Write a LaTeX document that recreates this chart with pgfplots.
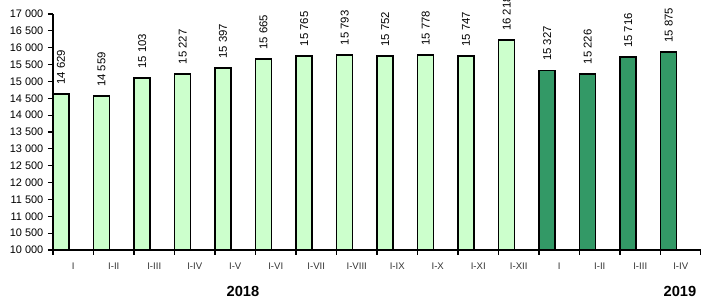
\documentclass[border=0pt]{standalone}
\usepackage{pgfplots}
\pgfplotsset{compat=1.18}
\usepackage{fontspec}
\setmainfont{Liberation Sans}
\definecolor{lightg}{HTML}{CCFFCC}
\definecolor{darkg}{HTML}{339966}
\begin{document}
\begin{tikzpicture}
\useasboundingbox (-39.75pt,-39.75pt) rectangle (486pt,187.5pt);
\begin{axis}[
  at={(0,0)}, anchor=south west,
  scale only axis, width=486pt, height=177pt,
  xmin=-0.5, xmax=15.5, ymin=10000, ymax=17000,
  axis x line=bottom, axis y line=left,
  axis line style={-, line width=1pt, black},
  ytick={10000,10500,...,17000},
  scaled y ticks=false,
  xtick={0,...,15},
  xticklabels={I,I-II,I-III,I-IV,I-V,I-VI,I-VII,I-VIII,I-IX,I-X,I-XI,I-XII,I,I-II,I-III,I-IV},
  minor xtick={-0.5,0.5,...,15.5},
  major x tick style={draw=none},
  minor x tick style={black, line width=0.8pt},
  major y tick style={black, line width=0.8pt},
  tick align=outside,
  major tick length=3.75pt, minor tick length=3.75pt,
  yticklabel style={font=\fontsize{8.2}{9}\selectfont},
  xticklabel style={font=\fontsize{7.2}{8}\selectfont, text=black!80, yshift=-2.5pt},
  /pgf/number format/.cd, fixed, precision=0, 1000 sep={\ }, assume math mode=true,
  /pgfplots/.cd,
  ybar, bar width=0.395, bar shift=0pt,
  clip=false,
  nodes near coords,
  every node near coord/.append style={rotate=90, anchor=west, inner xsep=6.5pt, inner ysep=0pt, font=\fontsize{8.5}{9}\selectfont, text=black},
]
\addplot[fill=lightg, draw=black, line width=1.3pt] coordinates {
(-0.3,14629) (0.7,14559) (1.7,15103) (2.7,15227) (3.7,15397) (4.7,15665)
(5.7,15765) (6.7,15793) (7.7,15752) (8.7,15778) (9.7,15747) (10.7,16218)};
\addplot[fill=darkg, draw=black, line width=1.3pt] coordinates {
(11.7,15327) (12.7,15226) (13.7,15716) (14.7,15875)};
\node[font=\bfseries\fontsize{11}{12}\selectfont] at ([yshift=-30.75pt]axis cs:4.19,10000) {2018};
\node[font=\bfseries\fontsize{11}{12}\selectfont] at ([yshift=-30.75pt]axis cs:14.98,10000) {2019};
\end{axis}
\end{tikzpicture}
\end{document}
